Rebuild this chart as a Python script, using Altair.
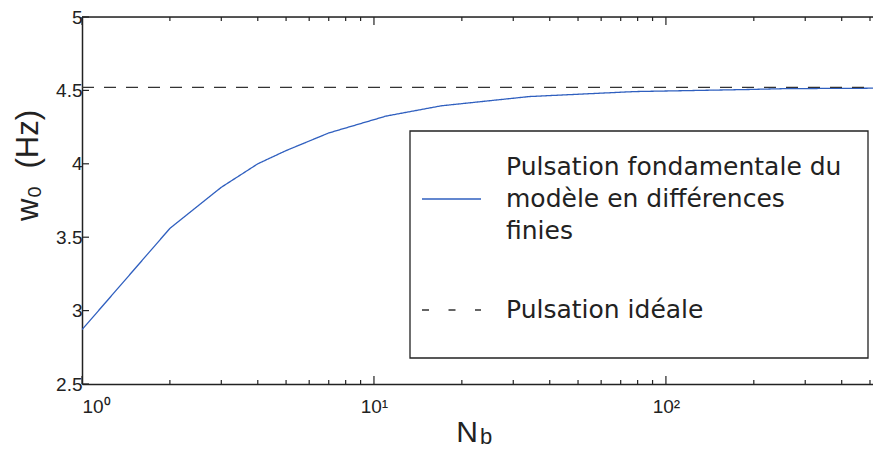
import altair as alt
import pandas as pd

# --- data ---
nb = [1, 2, 3, 4, 5, 7, 11, 17, 34, 78, 190, 256, 512]
w0 = [2.87, 3.56, 3.84, 4.00, 4.09, 4.21, 4.325, 4.395, 4.458, 4.492, 4.506, 4.512, 4.515]
ideal_nb = [1, 512]
ideal_w0 = [4.52, 4.52]

series_fd = "Pulsation fondamentale du modèle en différences finies"
series_ideal = "Pulsation idéale"
legend_fd_lines = ["Pulsation fondamentale du", "modèle en différences", "finies"]
legend_ideal_lines = ["Pulsation idéale"]

x_major = [1, 10, 100]
x_minor = [2, 3, 4, 5, 6, 7, 8, 9, 20, 30, 40, 50, 60, 70, 80, 90, 200, 300, 400, 500]
y_ticks = [2.5, 3, 3.5, 4, 4.5, 5]

y_title = "w₀\u00a0\u00a0(Hz)"
x_title_main = "N"
x_title_sub = "b"

BLUE = "#2f5fbf"
DARK = "#222222"
W, H = 791, 367

df = pd.DataFrame({
    "Nb": nb + ideal_nb,
    "w0": w0 + ideal_w0,
    "serie": [series_fd] * len(nb) + [series_ideal] * len(ideal_nb),
})
one = pd.DataFrame({"_": [0]})

xscale = alt.Scale(type="log", domain=[1, 512], nice=False)
yscale = alt.Scale(domain=[2.5, 5], nice=False, zero=False)

lines = alt.Chart(df).mark_line(strokeWidth=1.3, clip=True).encode(
    x=alt.X("Nb:Q", scale=xscale,
            axis=alt.Axis(values=x_major, ticks=False, grid=False, title=None,
                          labelExpr="datum.value == 1 ? '10⁰' : datum.value == 10 ? '10¹' : '10²'",
                          labelFont="Liberation Sans", labelFontSize=19, labelColor=DARK,
                          labelPadding=13, domainColor=DARK, domainWidth=1.5)),
    y=alt.Y("w0:Q", scale=yscale,
            axis=alt.Axis(values=y_ticks, ticks=False, grid=False, format="~g",
                          title=y_title, titleFont="Liberation Sans", titleFontSize=31,
                          titleFontWeight="normal", titleColor=DARK,
                          titleX=-45, titleY=148, titleAngle=270,
                          titleBaseline="alphabetic", titleAlign="center",
                          labelFont="Liberation Sans", labelFontSize=19, labelColor=DARK,
                          labelPadding=0, domainColor=DARK, domainWidth=1.5)),
    color=alt.Color("serie:N",
                    scale=alt.Scale(domain=[series_fd, series_ideal], range=[BLUE, "#333333"]),
                    legend=None),
    strokeDash=alt.StrokeDash("serie:N",
                              scale=alt.Scale(domain=[series_fd, series_ideal], range=[[1, 0], [12, 10]]),
                              legend=None),
)

xmaj_df = pd.DataFrame({"v": x_major})
xmin_df = pd.DataFrame({"v": x_minor})
ytk_df = pd.DataFrame({"v": y_ticks})

tick_style = dict(color=DARK, strokeWidth=1.2)
bot_major = alt.Chart(xmaj_df).mark_rule(**tick_style).encode(
    x=alt.X("v:Q", scale=xscale), y=alt.value(H), y2=alt.value(H - 8))
bot_minor = alt.Chart(xmin_df).mark_rule(**tick_style).encode(
    x=alt.X("v:Q", scale=xscale), y=alt.value(H), y2=alt.value(H - 4))
top_major = alt.Chart(xmaj_df).mark_rule(**tick_style).encode(
    x=alt.X("v:Q", scale=xscale), y=alt.value(0), y2=alt.value(8))
top_minor = alt.Chart(xmin_df).mark_rule(**tick_style).encode(
    x=alt.X("v:Q", scale=xscale), y=alt.value(0), y2=alt.value(4))
left_ticks = alt.Chart(ytk_df).mark_rule(**tick_style).encode(
    y=alt.Y("v:Q", scale=yscale), x=alt.value(0), x2=alt.value(7))
top_border = alt.Chart(one).mark_rule(color=DARK, strokeWidth=1.5).encode(
    x=alt.value(0), x2=alt.value(W), y=alt.value(0))

# x axis title N with subscript b
title_n = alt.Chart(one).mark_text(text=x_title_main, font="Liberation Sans", fontSize=30,
                                   color=DARK, align="right", baseline="alphabetic").encode(
    x=alt.value(396), y=alt.value(425))
title_b = alt.Chart(one).mark_text(text=x_title_sub, font="Liberation Sans", fontSize=22,
                                   color=DARK, align="left", baseline="alphabetic").encode(
    x=alt.value(398), y=alt.value(427))

# legend box (matlab style, inside the plot)
leg_box = alt.Chart(one).mark_rect(fill="white", stroke=DARK, strokeWidth=1.3).encode(
    x=alt.value(328), x2=alt.value(786), y=alt.value(114), y2=alt.value(341))
leg_sym1 = alt.Chart(one).mark_rule(color=BLUE, strokeWidth=1.3).encode(
    x=alt.value(340), x2=alt.value(399), y=alt.value(182))
leg_sym2 = alt.Chart(one).mark_rule(color="#333333", strokeWidth=1.3, strokeDash=[7, 19.5]).encode(
    x=alt.value(340), x2=alt.value(399), y=alt.value(293))
leg_txt1 = alt.Chart(one).mark_text(text=legend_fd_lines, font="DejaVu Sans", fontSize=25,
                                    lineHeight=32, color=DARK, align="left",
                                    baseline="alphabetic").encode(
    x=alt.value(424), y=alt.value(158))
leg_txt2 = alt.Chart(one).mark_text(text=legend_ideal_lines[0], font="DejaVu Sans", fontSize=25,
                                    color=DARK, align="left", baseline="alphabetic").encode(
    x=alt.value(424), y=alt.value(301))

chart = alt.layer(
    lines, bot_major, bot_minor, top_major, top_minor, left_ticks, top_border,
    title_n, title_b, leg_box, leg_sym1, leg_sym2, leg_txt1, leg_txt2
).properties(
    width=W, height=H,
    autosize=alt.AutoSizeParams(type="none"),
    padding={"left": 74, "top": 9, "right": 0, "bottom": 65},
).configure_view(stroke=None).configure(background="white")

chart.save("out.html", embed_options={"renderer": "svg", "actions": False})
